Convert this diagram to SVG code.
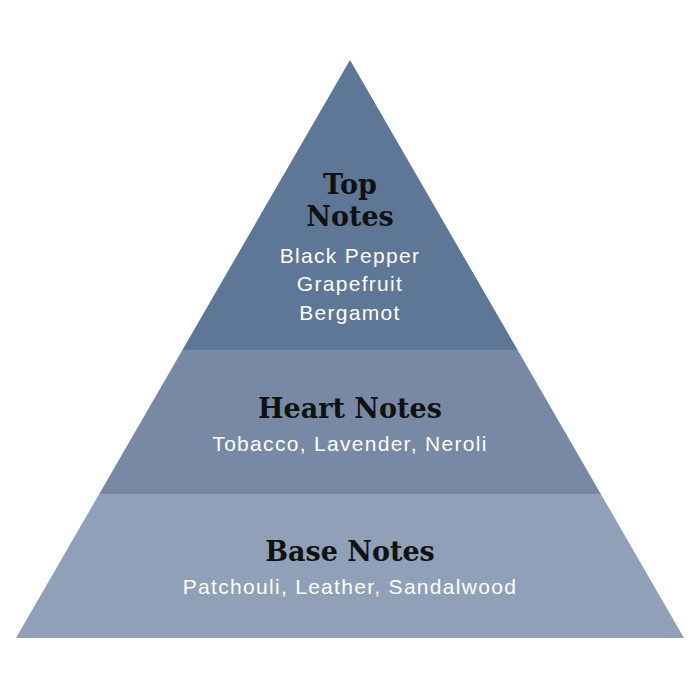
<svg xmlns="http://www.w3.org/2000/svg" width="700" height="700" viewBox="0 0 700 700">
<style>
.h{font-family:"DejaVu Serif","Liberation Serif",serif;font-weight:bold;font-size:27px;fill:#111;text-anchor:middle}
.s{font-family:"Liberation Sans",Arial,sans-serif;font-size:21px;fill:#fff;text-anchor:middle;letter-spacing:1.3px}
</style>
<rect width="700" height="700" fill="#fff"/>
<g id="top">
<polygon points="350,60 517.6,350 182.4,350" fill="#5f7796"/>
<text class="h" x="350" y="194">Top</text>
<text class="h" x="350" y="226">Notes</text>
<text class="s" x="350" y="263">Black Pepper</text>
<text class="s" x="350" y="291">Grapefruit</text>
<text class="s" x="350" y="320">Bergamot</text>
</g>
<g id="heart">
<polygon points="182.4,350 517.6,350 600.8,494 99.2,494" fill="#7789a5"/>
<text class="h" x="350" y="418">Heart Notes</text>
<text class="s" x="350" y="451">Tobacco, Lavender, Neroli</text>
</g>
<g id="base">
<polygon points="99.2,494 600.8,494 684,638 16,638" fill="#8fa0b8"/>
<text class="h" x="350" y="561">Base Notes</text>
<text class="s" x="350" y="594">Patchouli, Leather, Sandalwood</text>
</g>
<g id="connectors"/>
</svg>
